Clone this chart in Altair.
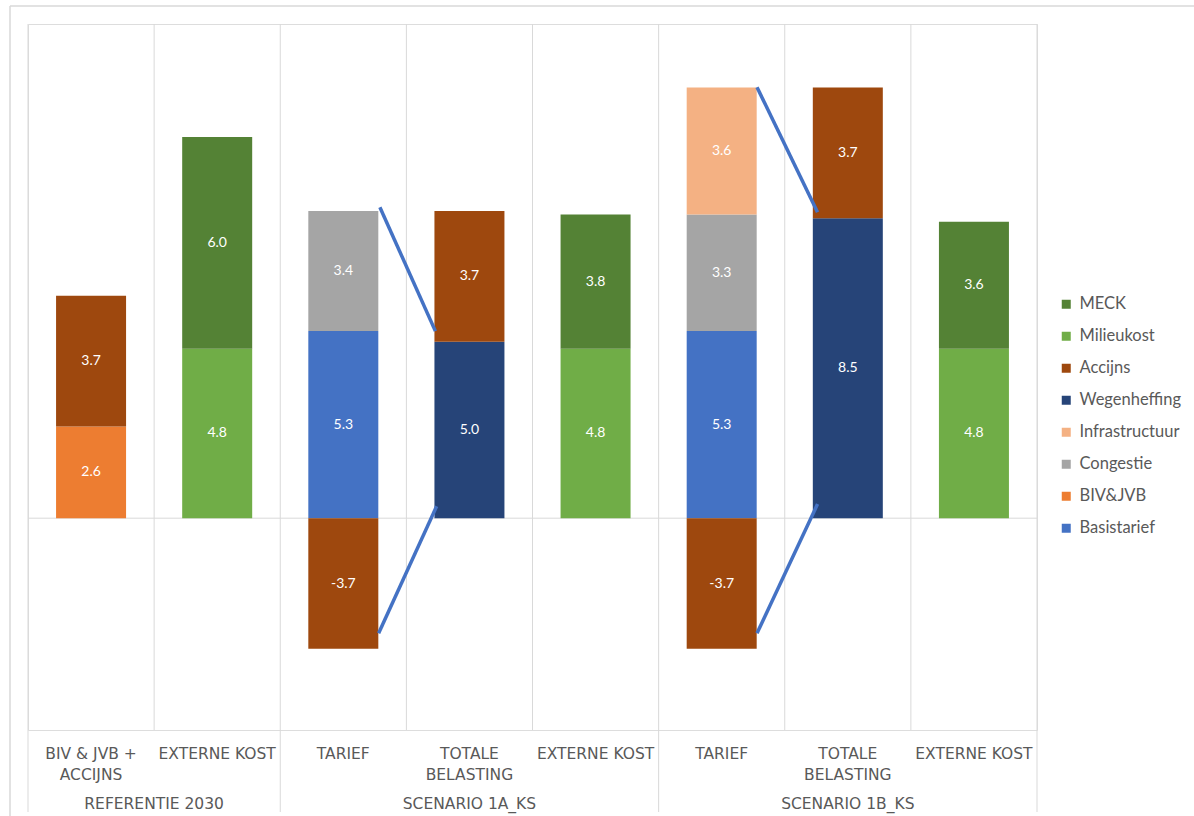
import altair as alt
import pandas as pd

# Category axis (two levels)
categories = ["BIV & JVB +\nACCIJNS", "EXTERNE KOST", "TARIEF", "TOTALE\nBELASTING",
              "EXTERNE KOST", "TARIEF", "TOTALE\nBELASTING", "EXTERNE KOST"]
groups = ["REFERENTIE 2030", "SCENARIO 1A_KS", "SCENARIO 1B_KS"]
group_sizes = [2, 3, 3]

# Series values per category (None = not present)
basistarief    = [None, None, 5.3, None, None, 5.3, None, None]
biv_jvb        = [2.6, None, None, None, None, None, None, None]
congestie      = [None, None, 3.4, None, None, 3.3, None, None]
infrastructuur = [None, None, None, None, None, 3.6, None, None]
wegenheffing   = [None, None, None, 5.0, None, None, 8.5, None]
accijns        = [3.7, None, -3.7, 3.7, None, -3.7, 3.7, None]
milieukost     = [None, 4.8, None, None, 4.8, None, None, 4.8]
meck           = [None, 6.0, None, None, 3.8, None, None, 3.6]

# Connector lines between "Tarief" and "Totale belasting"
conn_x0 = [2.79, 2.78, 5.78, 5.78]
conn_y0 = [8.81, -3.26, 12.21, -3.26]
conn_x1 = [3.23, 3.24, 6.26, 6.26]
conn_y1 = [5.30, 0.34, 8.67, 0.40]

stack_order = ["Basistarief", "BIV&JVB", "Congestie", "Infrastructuur",
               "Wegenheffing", "Accijns", "Milieukost", "MECK"]
series_values = dict(zip(stack_order, [basistarief, biv_jvb, congestie, infrastructuur,
                                       wegenheffing, accijns, milieukost, meck]))
legend_order = ["MECK", "Milieukost", "Accijns", "Wegenheffing",
                "Infrastructuur", "Congestie", "BIV&JVB", "Basistarief"]
palette = {"MECK": "#548235", "Milieukost": "#70AD47", "Accijns": "#9E480E",
           "Wegenheffing": "#264478", "Infrastructuur": "#F4B183",
           "Congestie": "#A5A5A5", "BIV&JVB": "#ED7D31", "Basistarief": "#4472C4"}

# Stack positives upward and negatives downward, in stack order
rows = []
for i in range(len(categories)):
    pos, neg = 0.0, 0.0
    for s in stack_order:
        v = series_values[s][i]
        if v is None:
            continue
        if v >= 0:
            lo, hi = pos, pos + v
            pos = hi
        else:
            lo, hi = neg + v, neg
            neg = lo
        rows.append({"pos": i + 0.5, "series": s, "value": v, "lo": lo, "hi": hi,
                     "mid": (lo + hi) / 2, "label": f"{v:.1f}"})
bars_df = pd.DataFrame(rows)

cat_df = pd.DataFrame({"pos": [i + 0.5 for i in range(len(categories))], "name": categories})
grid_df = pd.DataFrame({"b": list(range(len(categories) + 1))})
edges = [0]
for n in group_sizes:
    edges.append(edges[-1] + n)
group_edge_df = pd.DataFrame({"b": edges})
group_df = pd.DataFrame({"pos": [(edges[k] + edges[k + 1]) / 2 for k in range(len(groups))],
                         "name": groups})
conn_df = pd.DataFrame({"x0": conn_x0, "y0": conn_y0, "x1": conn_x1, "y1": conn_y1})

W, H = 1009, 706
GRID = "#d9d9d9"
TXT = "#595959"
xs = alt.Scale(domain=[0, len(categories)], nice=False, zero=False, padding=0)
ys = alt.Scale(domain=[-6, 14], nice=False, zero=False, padding=0)

frame_top = alt.Chart(grid_df.head(1)).mark_rule(color=GRID, strokeWidth=1.5).encode(
    x=alt.value(-18), x2=alt.value(W + 170), y=alt.value(-18))
frame_left = alt.Chart(grid_df.head(1)).mark_rule(color=GRID, strokeWidth=1.5).encode(
    x=alt.value(-18), y=alt.value(-18), y2=alt.value(H + 90))

grid = alt.Chart(grid_df).mark_rule(color=GRID, strokeWidth=1).encode(
    x=alt.X("b:Q", scale=xs, axis=None), y=alt.value(0), y2=alt.value(H))
group_lines = alt.Chart(group_edge_df).mark_rule(color=GRID, strokeWidth=1).encode(
    x=alt.X("b:Q", scale=xs, axis=None), y=alt.value(H), y2=alt.value(H + 82))
zero = alt.Chart(grid_df.head(1)).mark_rule(color=GRID, strokeWidth=1).encode(
    y=alt.datum(0, scale=ys, axis=None), x=alt.value(0), x2=alt.value(W))

bars = alt.Chart(bars_df).mark_bar(size=70).encode(
    x=alt.X("pos:Q", scale=xs, axis=None),
    y=alt.Y("lo:Q", scale=ys, axis=None),
    y2="hi:Q",
    color=alt.Color("series:N",
                    scale=alt.Scale(domain=legend_order, range=[palette[s] for s in legend_order]),
                    legend=alt.Legend(title=None, orient="none", legendX=1030, legendY=272,
                                      symbolType="square", symbolSize=81, symbolStrokeWidth=0,
                                      labelFont="Lato", labelFontSize=16.5, labelColor=TXT,
                                      labelOffset=5, rowPadding=15, padding=0)),
)
bar_text = alt.Chart(bars_df).mark_text(color="white", font="Lato", fontSize=14).encode(
    x=alt.X("pos:Q", scale=xs), y=alt.Y("mid:Q", scale=ys), text="label:N")

connectors = alt.Chart(conn_df).mark_rule(color="#4472C4", strokeWidth=3.5).encode(
    x=alt.X("x0:Q", scale=xs), y=alt.Y("y0:Q", scale=ys),
    x2="x1:Q", y2="y1:Q")

cat_text = alt.Chart(cat_df).mark_text(
    font="DejaVu Sans", fontSize=15.5, color=TXT, baseline="alphabetic",
    lineBreak="\n", lineHeight=21).encode(
    x=alt.X("pos:Q", scale=xs), y=alt.value(H + 29), text="name:N")
group_text = alt.Chart(group_df).mark_text(
    font="DejaVu Sans", fontSize=15.5, color=TXT, baseline="alphabetic").encode(
    x=alt.X("pos:Q", scale=xs), y=alt.value(H + 79), text="name:N")

chart = alt.layer(frame_top, frame_left, grid, group_lines, zero, bars, bar_text,
                  connectors, cat_text, group_text).properties(
    width=W, height=H,
    autosize=alt.AutoSizeParams(type="none"),
    padding={"left": 28, "top": 24, "right": 157, "bottom": 86},
).configure_view(stroke=None).configure(background="white")

chart.save("out.html", embed_options={"renderer": "svg", "actions": False})
